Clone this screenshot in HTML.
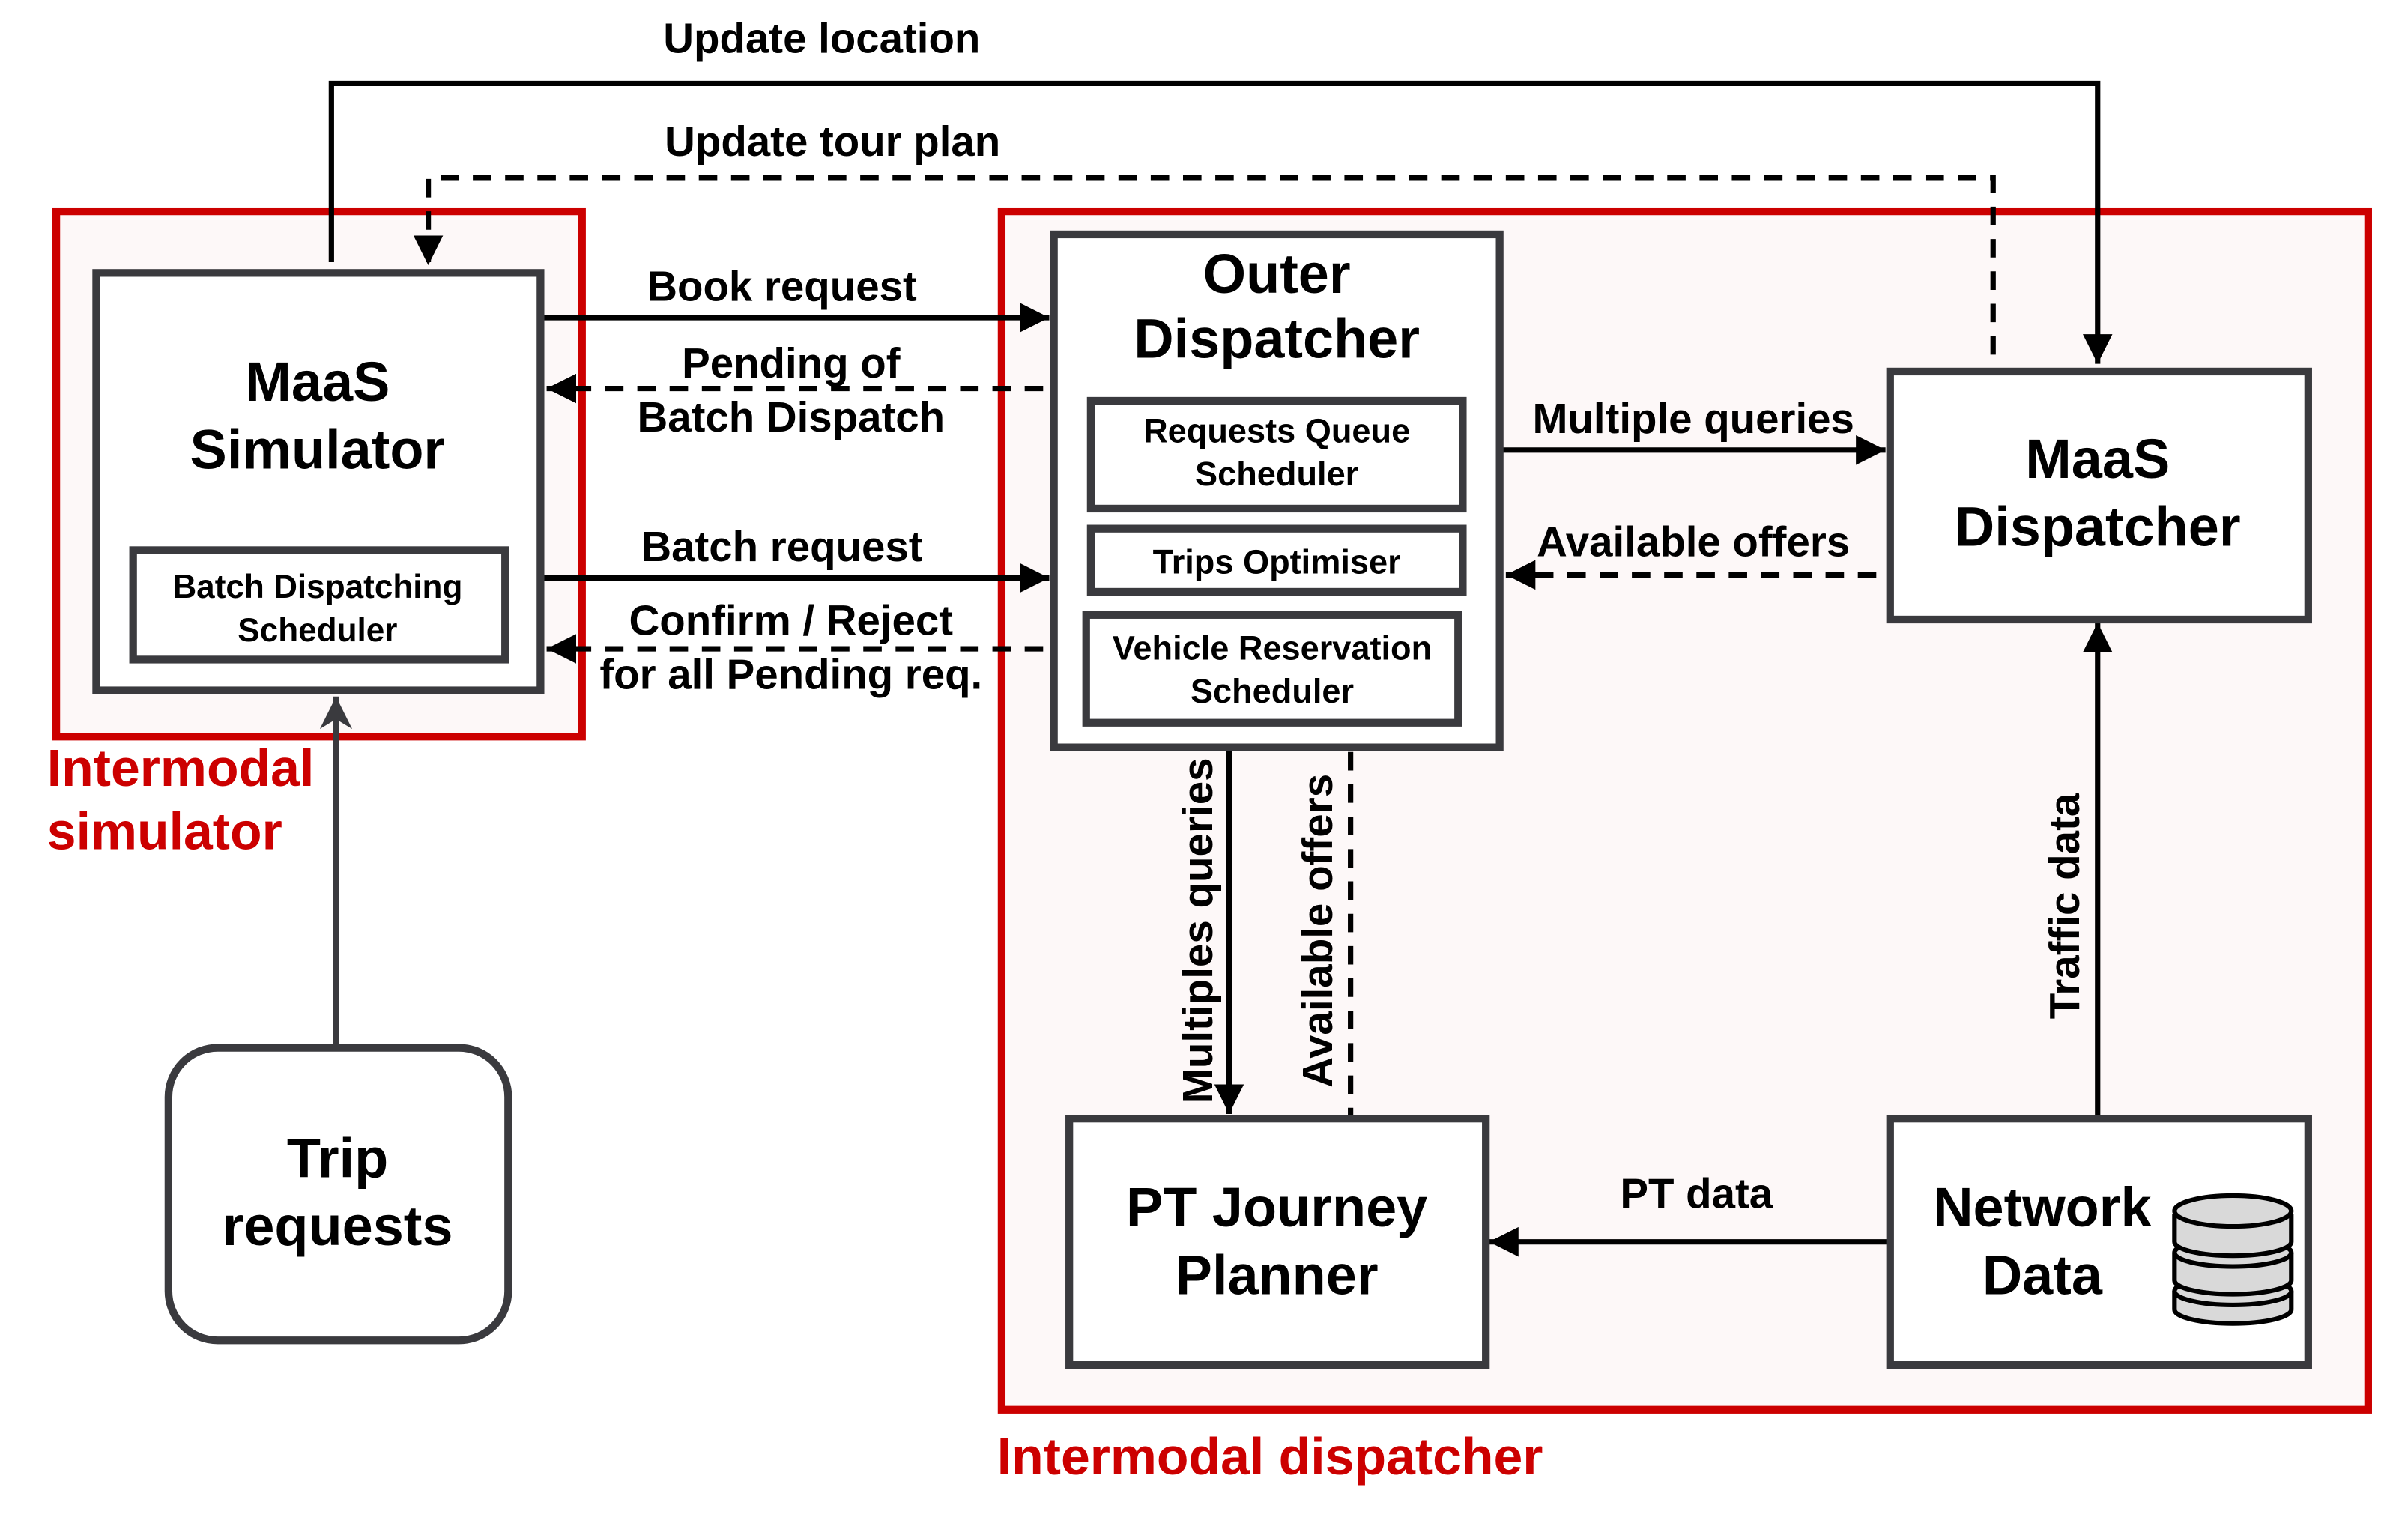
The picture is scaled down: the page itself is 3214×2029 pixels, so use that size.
<!DOCTYPE html>
<html><head><meta charset="utf-8"><style>
html,body{margin:0;padding:0;background:#fff}
svg{display:block}
text{font-family:"Liberation Sans",sans-serif;font-weight:bold;fill:#000}
</style></head><body>
<svg width="3214" height="2029" viewBox="1.4 1.8 1566.5 986.8" preserveAspectRatio="none" xmlns="http://www.w3.org/2000/svg">
<defs>
<marker id="a" viewBox="0 0 10 10" refX="10" refY="5" markerWidth="5.5" markerHeight="5.5" orient="auto" markerUnits="strokeWidth"><path d="M0,0L10,5L0,10z" fill="#000"/></marker>
<marker id="g" viewBox="0 0 10 10" refX="10" refY="5" markerWidth="6" markerHeight="6" orient="auto" markerUnits="strokeWidth"><path d="M0,0L10,5L0,10L3,5z" fill="#3a3a3e"/></marker>
</defs>
<rect x="0" y="0" width="1570" height="990" fill="#fff"/>
<rect x="38" y="139" width="342" height="341" fill="#fdf8f8" stroke="#cc0000" stroke-width="5"/>
<rect x="653" y="139" width="889" height="778" fill="#fdf8f8" stroke="#cc0000" stroke-width="5"/>
<text x="32" y="512" font-size="34" style="fill:#cc0000">Intermodal</text>
<text x="32" y="553" font-size="34" style="fill:#cc0000">simulator</text>
<text x="650" y="959" font-size="34" style="fill:#cc0000">Intermodal dispatcher</text>

<g stroke="#000" stroke-width="3.5" fill="none">
<path d="M217,172V56H1366V238" marker-end="url(#a)"/>
<path d="M1298,232V117H280V174" stroke-dasharray="12,9" marker-end="url(#a)"/>
<path d="M355,208H684" marker-end="url(#a)"/>
<path d="M680,254H357" stroke-dasharray="12,9" marker-end="url(#a)"/>
<path d="M355,377H684" marker-end="url(#a)"/>
<path d="M680,423H357" stroke-dasharray="12,9" marker-end="url(#a)"/>
<path d="M979,294H1228" marker-end="url(#a)"/>
<path d="M1222,375H981" stroke-dasharray="12,9" marker-end="url(#a)"/>
<path d="M801,489V725" marker-end="url(#a)"/>
<path d="M880,490V727" stroke-dasharray="12,9"/>
<path d="M1366,727V406" marker-end="url(#a)"/>
<path d="M1230,808H970" marker-end="url(#a)"/>
</g>
<path d="M220,681V454" stroke="#3a3a3e" stroke-width="3.5" fill="none" marker-end="url(#g)"/>

<g stroke="#3a3a3e" stroke-width="5" fill="#fff">
<rect x="64" y="179" width="289" height="271"/>
<rect x="88" y="359" width="242" height="71"/>
<rect x="687" y="154" width="290" height="333"/>
<rect x="711" y="262" width="242" height="70"/>
<rect x="711" y="345" width="242" height="41"/>
<rect x="708" y="401" width="242" height="70"/>
<rect x="1231" y="243" width="272" height="161"/>
<rect x="697" y="728" width="271" height="160"/>
<rect x="1231" y="728" width="272" height="160"/>
<rect x="111" y="682" width="221" height="190" rx="32"/>
</g>

<g stroke="#000" stroke-width="3" fill="#d9d9d9">
<path d="M1416,840v12a38,9 0 0 0 76,0v-12"/>
<ellipse cx="1454" cy="840" rx="38" ry="9"/>
<path d="M1416,815v18a38,9 0 0 0 76,0v-18"/>
<ellipse cx="1454" cy="815" rx="38" ry="9"/>
<path d="M1416,790v18a38,9 0 0 0 76,0v-18"/>
<ellipse cx="1454" cy="788" rx="38" ry="10"/>
</g>

<g text-anchor="middle">
<text x="208" y="262" font-size="36">MaaS</text>
<text x="208" y="306" font-size="36">Simulator</text>
<text x="208" y="390" font-size="21.5">Batch Dispatching</text>
<text x="208" y="418" font-size="21.5">Scheduler</text>
<text x="832" y="192" font-size="36">Outer</text>
<text x="832" y="234" font-size="36">Dispatcher</text>
<text x="832" y="289" font-size="22">Requests Queue</text>
<text x="832" y="317" font-size="22">Scheduler</text>
<text x="832" y="374" font-size="22">Trips Optimiser</text>
<text x="829" y="430" font-size="22">Vehicle Reservation</text>
<text x="829" y="458" font-size="22">Scheduler</text>
<text x="1366" y="312" font-size="36">MaaS</text>
<text x="1366" y="356" font-size="36">Dispatcher</text>
<text x="832" y="798" font-size="36">PT Journey</text>
<text x="832" y="842" font-size="36">Planner</text>
<text x="1330" y="798" font-size="36">Network</text>
<text x="1330" y="842" font-size="36">Data</text>
<text x="221" y="766" font-size="36">Trip</text>
<text x="221" y="810" font-size="36">requests</text>
<text x="536" y="36" font-size="27.5">Update location</text>
<text x="543" y="103" font-size="27.5">Update tour plan</text>
<text x="510" y="197" font-size="27.5">Book request</text>
<text x="516" y="247" font-size="27.5">Pending of</text>
<text x="516" y="282" font-size="27.5">Batch Dispatch</text>
<text x="510" y="366" font-size="27.5">Batch request</text>
<text x="516" y="414" font-size="27.5">Confirm / Reject</text>
<text x="516" y="449" font-size="27.5">for all Pending req.</text>
<text x="1103" y="283" font-size="27.5">Multiple queries</text>
<text x="1103" y="363" font-size="27.5">Available offers</text>
<text x="1105" y="786" font-size="27.5">PT data</text>
<text transform="translate(790,606) rotate(-90)" font-size="27.5">Multiples queries</text>
<text transform="translate(868,606) rotate(-90)" font-size="27.5">Available offers</text>
<text transform="translate(1354,590) rotate(-90)" font-size="27.5">Traffic data</text>
</g>
</svg>
</body></html>
